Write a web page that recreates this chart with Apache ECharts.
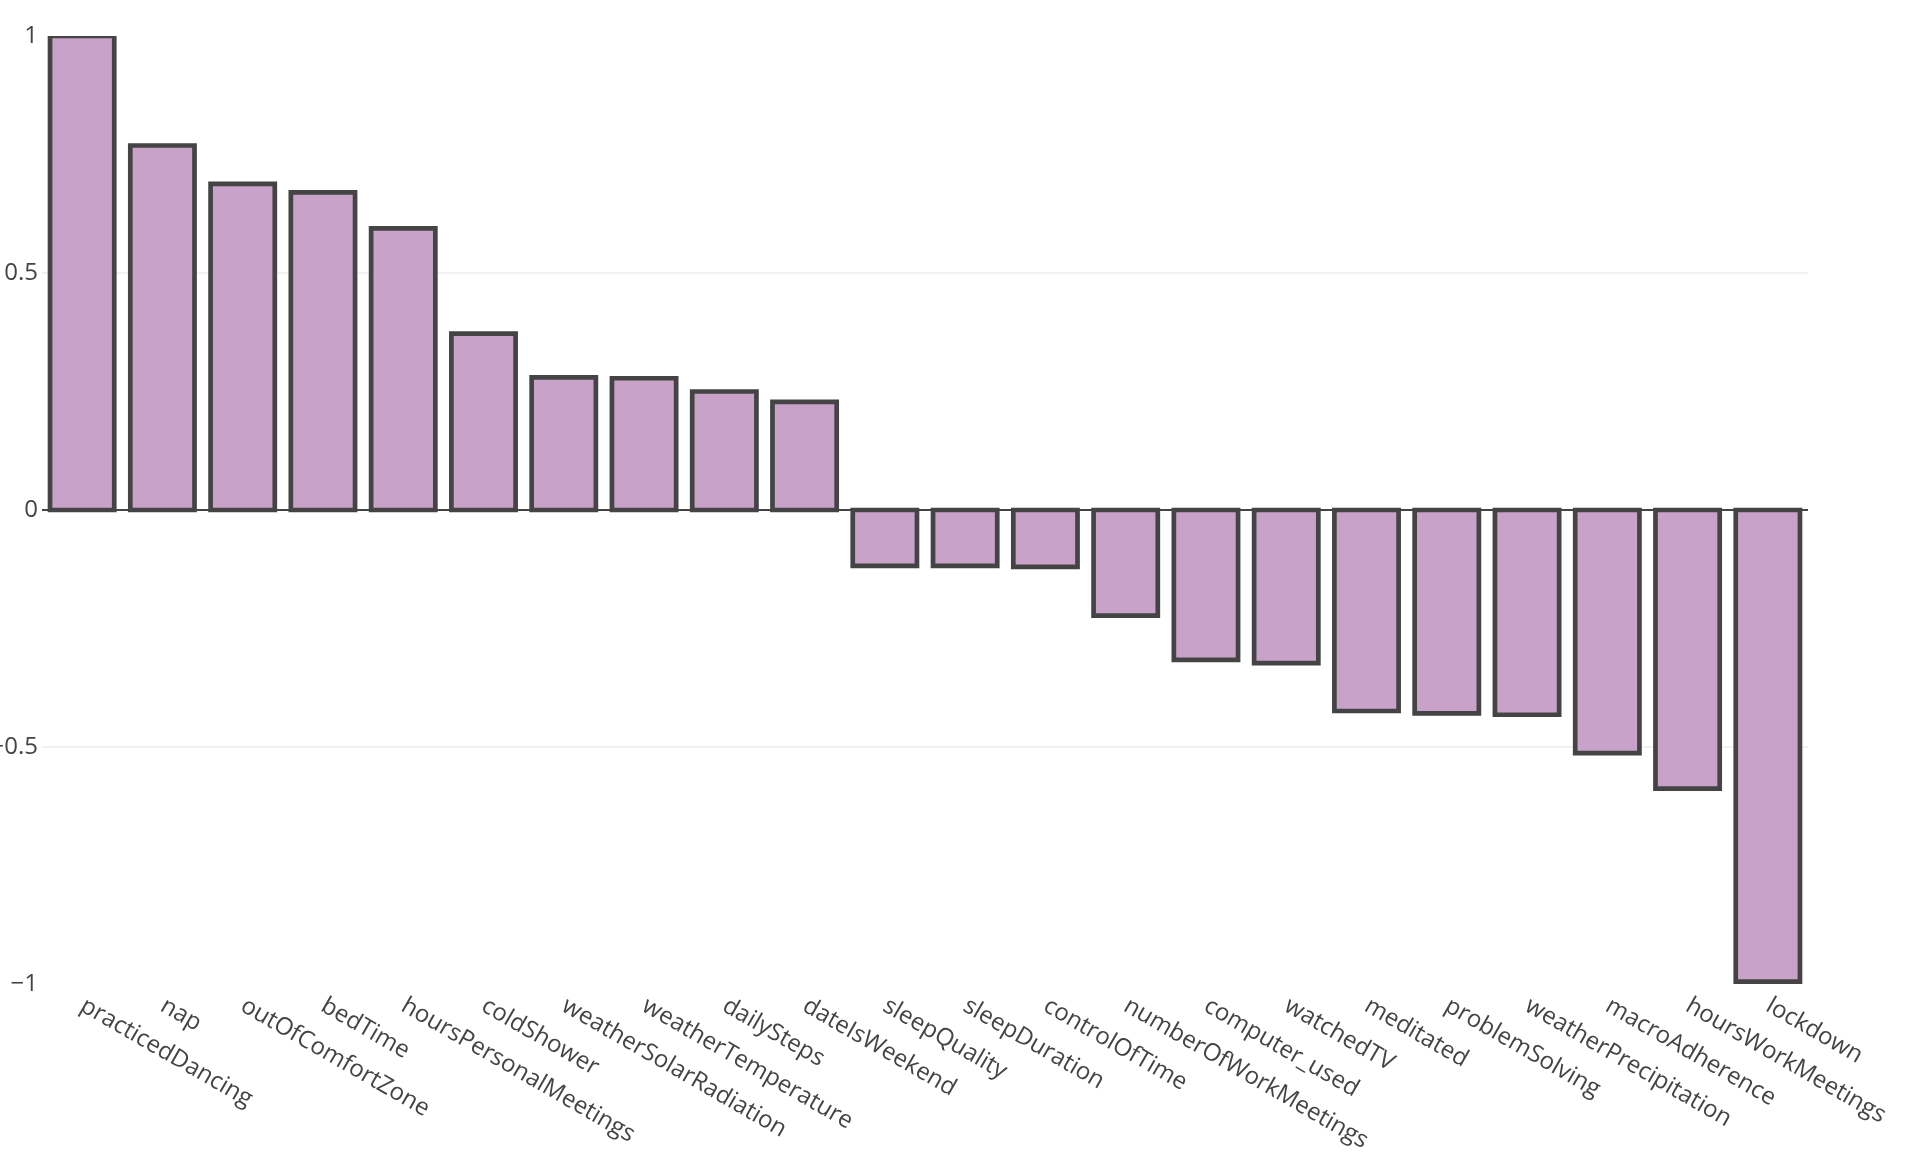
<!DOCTYPE html>
<html>
<head>
<meta charset="utf-8">
<script src="https://cdn.jsdelivr.net/npm/echarts@6/dist/echarts.min.js"></script>
<style>
html,body{margin:0;padding:0;background:#fff;}
#chart{width:1932px;height:1152px;}
</style>
</head>
<body>
<div id="chart"></div>
<script>
const categories = ["practicedDancing","nap","outOfComfortZone","bedTime","hoursPersonalMeetings","coldShower","weatherSolarRadiation","weatherTemperature","dailySteps","dateIsWeekend","sleepQuality","sleepDuration","controlOfTime","numberOfWorkMeetings","computer_used","watchedTV","meditated","problemSolving","weatherPrecipitation","macroAdherence","hoursWorkMeetings","lockdown"];
const correlations = [1, 0.769, 0.688, 0.670, 0.594, 0.372, 0.280, 0.278, 0.250, 0.228, -0.118, -0.118, -0.120, -0.223, -0.316, -0.323, -0.424, -0.429, -0.432, -0.513, -0.588, -0.995];
const yTicks = [-1, -0.5, 0, 0.5, 1];

const chart = echarts.init(document.getElementById('chart'), null, {renderer: 'canvas'});
const font = '"Open Sans", "Noto Sans", sans-serif';
const barData = categories.map((c, i) => [i, correlations[i]]);

chart.setOption({
  animation: false,
  backgroundColor: '#fff',
  grid: {left: 42, right: 124, top: 36, bottom: 168, containLabel: false, outerBoundsMode: 'none'},
  xAxis: {
    type: 'category',
    data: categories,
    axisLine: {show: false, onZero: false},
    axisTick: {show: false},
    splitLine: {show: false},
    axisLabel: {
      interval: 0,
      rotate: -30,
      margin: 20,
      color: '#444',
      fontFamily: font,
      fontSize: 24
    }
  },
  yAxis: {
    type: 'value',
    min: yTicks[0],
    max: yTicks[yTicks.length - 1],
    interval: 0.5,
    axisLine: {show: false},
    axisTick: {show: false},
    splitLine: {show: true, showMinLine: false, showMaxLine: false, lineStyle: {color: '#eeeeee', width: 1.5}},
    axisLabel: {
      margin: 4,
      color: '#444',
      fontFamily: font,
      fontSize: 24,
      formatter: v => String(v).replace('-', '\u2212')
    }
  },
  series: [{
    type: 'custom',
    data: barData,
    clip: true,
    encode: {x: 0, y: 1},
    renderItem: function (params, api) {
      const i = api.value(0), v = api.value(1);
      const p0 = api.coord([i, 0]);
      const p1 = api.coord([i, v]);
      const w = api.size([1, 0])[0] * 0.8;
      return {
        type: 'rect',
        shape: {x: p0[0] - w / 2, y: Math.min(p0[1], p1[1]), width: w, height: Math.abs(p1[1] - p0[1])},
        style: {fill: '#c8a2c8', stroke: '#444444', lineWidth: 4.7}
      };
    },
    markLine: {
      silent: true,
      symbol: 'none',
      label: {show: false},
      lineStyle: {color: '#444', width: 2, type: 'solid'},
      data: [{yAxis: 0}]
    }
  }]
});
</script>
</body>
</html>
